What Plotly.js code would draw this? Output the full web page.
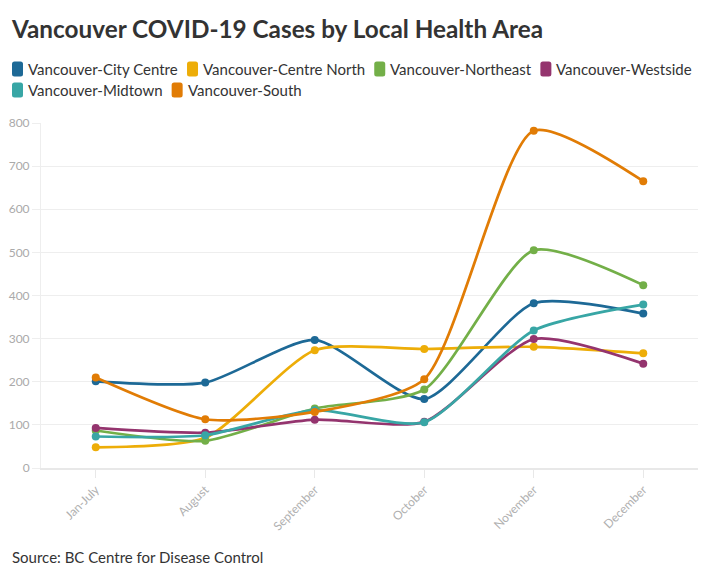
<!DOCTYPE html>
<html>
<head>
<meta charset="utf-8">
<script src="https://cdn.plot.ly/plotly-3.0.1.min.js"></script>
<style>html,body{margin:0;padding:0;background:#fff;}#chart{width:717px;height:575px;}</style>
</head>
<body>
<div id="chart"></div>
<script>
const months = ["Jan-July", "August", "September", "October", "November", "December"];
const seriesNames = ["Vancouver-City Centre", "Vancouver-Centre North", "Vancouver-Northeast", "Vancouver-Westside", "Vancouver-Midtown", "Vancouver-South"];
const cityCentre = [201, 198, 297, 160, 382, 358];
const centreNorth = [48, 70, 273, 276, 281, 266];
const northeast = [87, 63, 138, 182, 505, 424];
const westside = [93, 82, 112, 107, 299, 242];
const midtown = [73, 76, 134, 106, 319, 379];
const south = [210, 113, 130, 206, 782, 665];
const seriesValues = [cityCentre, centreNorth, northeast, westside, midtown, south];
const colors = ["#1d6996", "#edad08", "#73af48", "#94346e", "#38a6a5", "#e17c05"];

const FONT = "Lato, 'Open Sans', sans-serif";
const W = 717, H = 575;
const M = {l: 41, r: 19, t: 123, b: 107};
const PW = W - M.l - M.r, PH = H - M.t - M.b;
const px2x = px => (px - M.l) / PW;
const py2y = py => (H - M.b - py) / PH;

const traces = seriesNames.map((name, i) => ({
  x: months, y: seriesValues[i], name: name, type: "scatter", mode: "lines+markers",
  line: {color: colors[i], width: 2.7, shape: "spline", smoothing: 0.65},
  marker: {color: colors[i], size: 8},
  showlegend: false, hoverinfo: "x+y+name"
}));

// Custom flow legend (rounded swatches + labels), measured with canvas
const ctx = document.createElement("canvas").getContext("2d");
ctx.font = "15px Lato";
const shapes = [], annotations = [];
let cx = 12, row = 0;
const rowY = [69, 90];
const sw = 11, sh = 15, r = 2.5;
seriesNames.forEach((name, i) => {
  const tw = ctx.measureText(name).width;
  const itemW = sw + 5 + tw;
  if (cx + itemW > 700) { row += 1; cx = 12; }
  const yc = rowY[row];
  const x0 = cx, x1 = cx + sw, y0 = yc - sh / 2, y1 = yc + sh / 2;
  const X = px2x, Y = py2y;
  const path = `M ${X(x0 + r)} ${Y(y0)} L ${X(x1 - r)} ${Y(y0)} Q ${X(x1)} ${Y(y0)} ${X(x1)} ${Y(y0 + r)} ` +
    `L ${X(x1)} ${Y(y1 - r)} Q ${X(x1)} ${Y(y1)} ${X(x1 - r)} ${Y(y1)} L ${X(x0 + r)} ${Y(y1)} ` +
    `Q ${X(x0)} ${Y(y1)} ${X(x0)} ${Y(y1 - r)} L ${X(x0)} ${Y(y0 + r)} Q ${X(x0)} ${Y(y0)} ${X(x0 + r)} ${Y(y0)} Z`;
  shapes.push({type: "path", xref: "paper", yref: "paper", path: path, fillcolor: colors[i], line: {width: 0}, layer: "above"});
  annotations.push({
    text: name, xref: "paper", yref: "paper", x: px2x(x1 + 5), y: py2y(yc), xanchor: "left", yanchor: "middle",
    showarrow: false, borderpad: 0, borderwidth: 0, font: {size: 15, color: "#333", family: FONT}
  });
  cx = x1 + 5 + tw + 9;
});
annotations.push({
  text: "Source: BC Centre for Disease Control", xref: "paper", yref: "paper",
  x: px2x(12), y: py2y(557), xanchor: "left", yanchor: "middle", showarrow: false,
  borderpad: 0, borderwidth: 0, font: {size: 15, color: "#333", family: FONT}
});

const layout = {
  width: W, height: H,
  margin: M,
  paper_bgcolor: "#fff", plot_bgcolor: "#fff",
  font: {family: FONT, color: "#333"},
  title: {text: "<b>Vancouver COVID-19 Cases by Local Health Area</b>", x: 12 / W, xanchor: "left", xref: "container", y: 1 - 29 / H, yanchor: "middle", yref: "container", font: {size: 24.3, color: "#333", family: FONT}},
  showlegend: false,
  xaxis: {
    type: "category", range: [-0.5, 5.5], tickangle: -45, showgrid: false,
    ticks: "outside", ticklen: 8, tickcolor: "#e8e8e8", tickwidth: 1,
    tickfont: {size: 12, color: "#b0b0b0", family: FONT},
    showline: true, linecolor: "#e8e8e8", linewidth: 2, zeroline: false, fixedrange: true
  },
  yaxis: {
    range: [0, 800], dtick: 100, showgrid: true, gridcolor: "#eeeeee", gridwidth: 1,
    ticks: "outside", ticklen: 8, tickcolor: "#eeeeee",
    tickfont: {size: 12, color: "#aaa", family: FONT},
    showline: true, linecolor: "#eeeeee", linewidth: 1, zeroline: false, fixedrange: true
  },
  shapes: shapes,
  annotations: annotations
};
Plotly.newPlot("chart", traces, layout, {displayModeBar: false, responsive: false});
</script>
</body>
</html>
